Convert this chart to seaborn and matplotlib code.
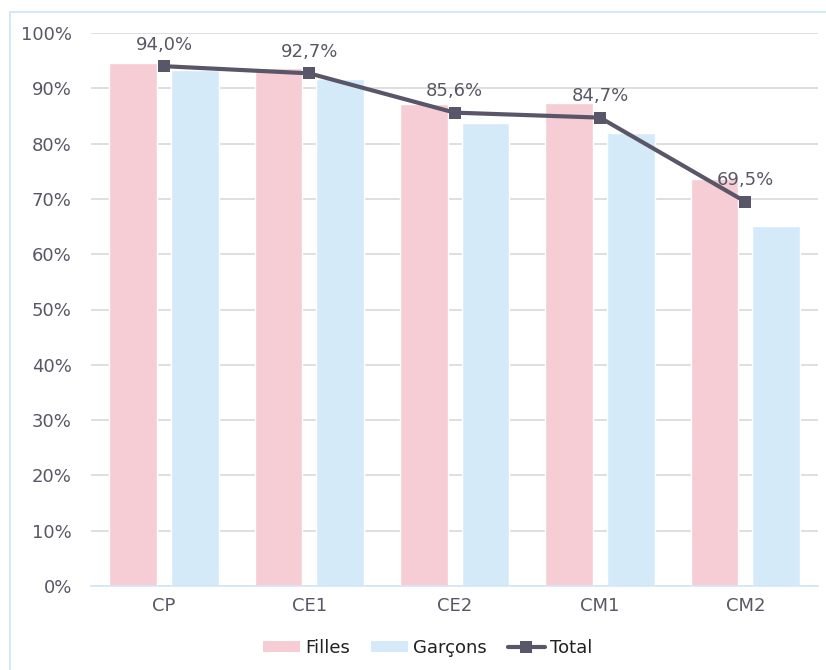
import matplotlib
matplotlib.use("Agg")
import matplotlib.pyplot as plt
from matplotlib.patches import Patch, Rectangle
from matplotlib.lines import Line2D
import seaborn as sns
import pandas as pd

# Taux de réussite par niveau
niveaux = ["CP", "CE1", "CE2", "CM1", "CM2"]
filles = [94.6, 93.7, 87.2, 87.4, 73.6]
garcons = [93.3, 91.7, 83.8, 82.0, 65.1]
total = [94.0, 92.7, 85.6, 84.7, 69.5]
etiquettes_y = ["0%", "10%", "20%", "30%", "40%", "50%", "60%", "70%", "80%", "90%", "100%"]

rose = "#f6cdd4"
bleu = "#d4eaf9"
gris_ligne = "#5a5669"
gris_texte = "#595766"

sns.set_theme(style="white")
plt.rcParams["font.family"] = ["DejaVu Sans"]

df = pd.DataFrame({
    "niveau": niveaux * 2,
    "valeur": filles + garcons,
    "sexe": ["Filles"] * len(niveaux) + ["Garçons"] * len(niveaux),
})

fig = plt.figure(figsize=(8.26, 6.7), dpi=100)
ax = fig.add_axes([91.3 / 826, 1 - 586 / 670, (818 - 91.3) / 826, (586 - 33) / 670])

sns.barplot(data=df, x="niveau", y="valeur", hue="sexe", order=niveaux,
            hue_order=["Filles", "Garçons"], palette=[rose, bleu],
            width=0.85, gap=0.226, saturation=1, legend=False, ax=ax)

sns.lineplot(x=list(range(len(niveaux))), y=total, color=gris_ligne, linewidth=3,
             marker="s", markersize=9, markeredgewidth=0, ax=ax, zorder=5)

for i, v in enumerate(total):
    ax.annotate(f"{v:.1f}%".replace(".", ","), (i, v), xytext=(0, 9),
                textcoords="offset points", ha="center", va="bottom",
                fontsize=13, color=gris_texte)

ax.set_xlim(-0.5, len(niveaux) - 0.5)
ax.set_ylim(0, 100)
ax.set_yticks(range(0, 101, 10))
ax.set_yticklabels(etiquettes_y)
ax.set_xlabel("")
ax.set_ylabel("")
ax.yaxis.grid(True, color="#d9d9d9", linewidth=1.2)
ax.set_axisbelow(True)
for s in ["top", "right", "left"]:
    ax.spines[s].set_visible(False)
ax.spines["bottom"].set_color("#d4e6f5")
ax.spines["bottom"].set_linewidth(1.2)
ax.tick_params(axis="y", length=0, pad=14, labelsize=13, labelcolor=gris_texte)
ax.tick_params(axis="x", length=0, pad=8, labelsize=13, labelcolor=gris_texte)

handles = [
    Patch(facecolor=rose, edgecolor="none", label="Filles"),
    Patch(facecolor=bleu, edgecolor="none", label="Garçons"),
    Line2D([0], [0], color=gris_ligne, linewidth=3, marker="s", markersize=8,
           markeredgewidth=0, label="Total"),
]
leg = fig.legend(handles=handles, loc="center", bbox_to_anchor=(0.518, 1 - 648 / 670),
                 ncol=3, frameon=False, fontsize=13, handlelength=2.0,
                 handleheight=0.6, handletextpad=0.3, columnspacing=1.2)
for t in leg.get_texts():
    t.set_color("#222222")

fig.patches.append(Rectangle((9.5 / 826, -0.05), 1.1, 1 - 12 / 670 + 0.05,
                             transform=fig.transFigure, fill=False,
                             edgecolor="#d4e8f7", linewidth=1.5))

fig.savefig("out.png", dpi=100)
